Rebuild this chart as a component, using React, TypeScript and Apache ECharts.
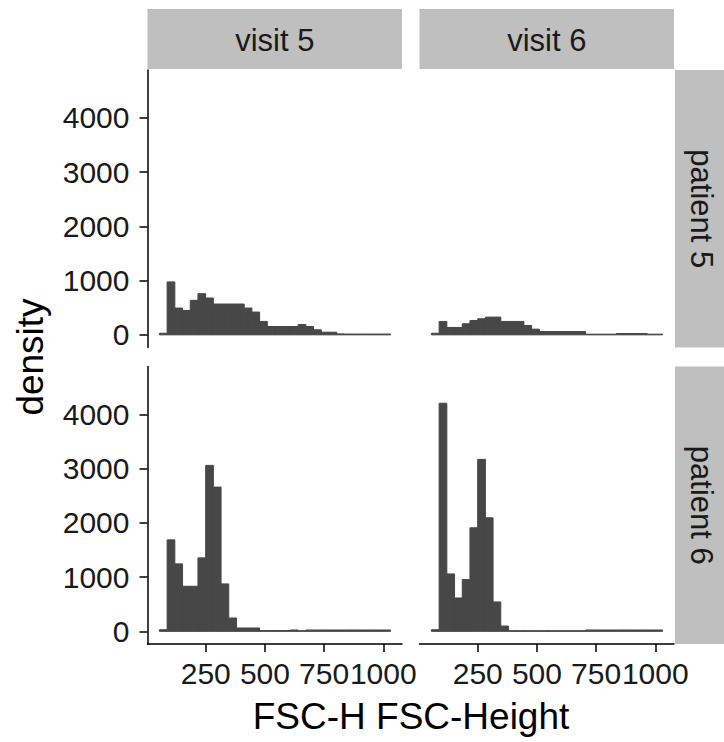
import React, { useEffect, useRef } from "react";
import * as echarts from "echarts";

// Histogram bins (FSC-H), shared across facets
const binCenters = [70.7, 103.2, 135.8, 168.3, 200.9, 233.4, 266.0, 298.5, 331.1, 363.6, 396.2, 428.7, 461.3, 493.8, 526.4, 558.9, 591.5, 624.0, 656.6, 689.1, 721.7, 754.2, 786.8, 819.3, 851.9, 884.4, 917.0, 949.5, 982.1, 1014.6];
const binWidth = 32.55;

const colLabels = ["visit 5", "visit 6"];
const rowLabels = ["patient 5", "patient 6"];

// densities per facet
const p5v5 = [30, 975, 494, 450, 636, 759, 679, 568, 568, 568, 568, 494, 420, 247, 154, 154, 154, 154, 191, 154, 93, 49, 49, 18, 15, 15, 15, 15, 15, 15];
const p5v6 = [30, 247, 136, 136, 204, 265, 296, 327, 327, 247, 247, 247, 173, 105, 62, 62, 62, 62, 62, 62, 12, 12, 12, 12, 25, 25, 25, 25, 12, 12];
const p6v5 = [30, 1686, 1243, 831, 831, 1354, 3058, 2658, 874, 246, 62, 62, 62, 15, 15, 15, 15, 25, 12, 25, 25, 25, 25, 25, 25, 25, 25, 25, 25, 25];
const p6v6 = [30, 4203, 1058, 615, 954, 1908, 3169, 2092, 542, 98, 12, 12, 12, 12, 12, 12, 12, 12, 12, 12, 25, 25, 25, 25, 25, 25, 25, 25, 25, 25];

const xTicks = [250, 500, 750, 1000];
const yTicks = [0, 1000, 2000, 3000, 4000];

const X_MIN = 4;
const X_MAX = 1079;
const Y_MIN = -233;
const Y_MAX = 4880;

const FONT = "'Liberation Sans', Arial, Helvetica, sans-serif";
const BAR = "#474747";
const STRIP = "#BFBFBF";
const TXT = "#1a1a1a";

export default function App() {
  const ref = useRef<HTMLDivElement>(null);

  useEffect(() => {
    if (!ref.current) return;
    const chart = echarts.init(ref.current, null, { renderer: "svg" });

    const L = [147.5, 419.5];
    const T = [70, 366.5];
    const W = 254.5;
    const H = 277.5;

    const panels = [
      { r: 0, c: 0, data: p5v5 },
      { r: 0, c: 1, data: p5v6 },
      { r: 1, c: 0, data: p6v5 },
      { r: 1, c: 1, data: p6v6 },
    ];

    const grid = panels.map((p) => ({ left: L[p.c], top: T[p.r], width: W, height: H, containLabel: false }));

    const fmt = (v: number) => String(v);

    const xAxis = panels.map((p, i) => {
      const show = p.r === 1;
      return {
        type: "value",
        gridIndex: i,
        min: X_MIN,
        max: X_MAX,
        show,
        splitLine: { show: false },
        axisLine: { show, onZero: false, lineStyle: { color: "#000", width: 1.5 } },
        axisTick: { show, length: 8, inside: false, customValues: xTicks, lineStyle: { color: "#000", width: 1.5 } },
        axisLabel: {
          show,
          customValues: xTicks,
          formatter: fmt,
          hideOverlap: false,
          showMinLabel: true,
          showMaxLabel: true,
          margin: 14,
          fontSize: 30,
          color: TXT,
          fontFamily: FONT,
        },
      };
    });

    const yAxis = panels.map((p, i) => {
      const show = p.c === 0;
      return {
        type: "value",
        gridIndex: i,
        min: Y_MIN,
        max: Y_MAX,
        show,
        splitLine: { show: false },
        axisLine: { show, onZero: false, lineStyle: { color: "#000", width: 1.5 } },
        axisTick: { show, length: 8, inside: false, customValues: yTicks, lineStyle: { color: "#000", width: 1.5 } },
        axisLabel: {
          show,
          customValues: yTicks,
          formatter: fmt,
          hideOverlap: false,
          showMinLabel: true,
          showMaxLabel: true,
          margin: 18,
          fontSize: 30,
          color: TXT,
          fontFamily: FONT,
        },
      };
    });

    const series = panels.map((p, i) => ({
      type: "custom",
      xAxisIndex: i,
      yAxisIndex: i,
      data: binCenters.map((c, k) => [c, p.data[k]]),
      renderItem: (params: any, api: any) => {
        const c = api.value(0);
        const v = api.value(1);
        const p0 = api.coord([c - binWidth / 2, 0]);
        const p1 = api.coord([c + binWidth / 2, v]);
        return {
          type: "rect",
          shape: { x: p0[0], y: p1[1], width: p1[0] - p0[0], height: p0[1] - p1[1] },
          style: { fill: BAR, stroke: BAR, lineWidth: 1 },
        };
      },
    }));

    const graphic: any[] = [];
    colLabels.forEach((lab, c) => {
      graphic.push({ type: "rect", left: L[c], top: 9, shape: { width: W, height: 60 }, style: { fill: STRIP } });
      graphic.push({
        type: "text",
        x: L[c] + W / 2,
        y: 40,
        style: { text: lab, fontSize: 31, fontFamily: FONT, fill: TXT, align: "center", verticalAlign: "middle" },
      });
    });
    rowLabels.forEach((lab, r) => {
      graphic.push({ type: "rect", left: 675, top: T[r], shape: { width: 60, height: H }, style: { fill: STRIP } });
      graphic.push({
        type: "text",
        x: 701,
        y: T[r] + H / 2,
        rotation: -Math.PI / 2,
        style: { text: lab, fontSize: 31, fontFamily: FONT, fill: TXT, align: "center", verticalAlign: "middle" },
      });
    });
    graphic.push({
      type: "text",
      x: 30,
      y: 357,
      rotation: Math.PI / 2,
      style: { text: "density", fontSize: 37, fontFamily: FONT, fill: "#000", align: "center", verticalAlign: "middle" },
    });
    graphic.push({
      type: "text",
      x: 411,
      y: 716,
      style: { text: "FSC-H FSC-Height", fontSize: 37, fontFamily: FONT, fill: "#000", align: "center", verticalAlign: "middle" },
    });

    chart.setOption({
      animation: false,
      backgroundColor: "#fff",
      grid,
      xAxis,
      yAxis,
      series,
      graphic,
    });

    return () => chart.dispose();
  }, []);

  return <div ref={ref} style={{ position: "absolute", left: 0, top: 0, width: 724, height: 742 }} />;
}
